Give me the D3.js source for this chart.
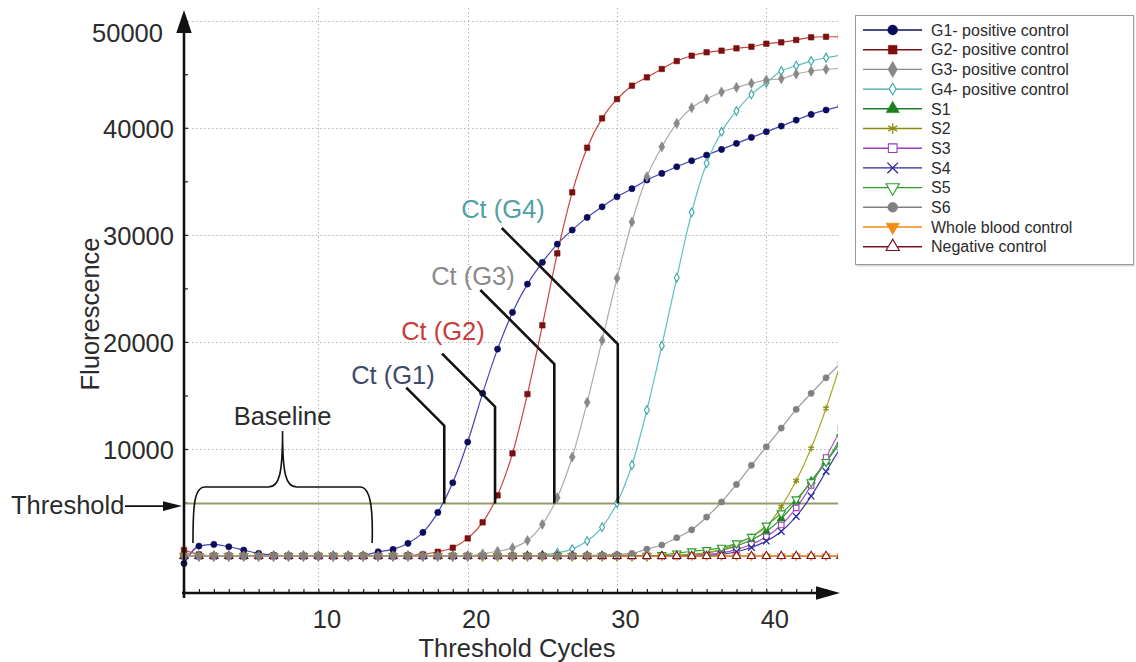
<!DOCTYPE html>
<html>
<head>
<meta charset="utf-8">
<script src="https://cdn.jsdelivr.net/npm/d3@7"></script>
<style>
  html, body { margin: 0; padding: 0; background: #fff; }
  svg { display: block; font-family: "Liberation Sans", Arial, Helvetica, sans-serif; }
</style>
</head>
<body>
<svg id="chart" width="1136" height="662"></svg>
<script>
// ---- data: real-time PCR amplification, fluorescence per cycle ----
const cycles = [
  1, 2, 3, 4, 5, 6, 7, 8, 9, 10, 11, 12, 13, 14, 15,
  16, 17, 18, 19, 20, 21, 22, 23, 24, 25, 26, 27, 28, 29, 30,
  31, 32, 33, 34, 35, 36, 37, 38, 39, 40, 41, 42, 43, 44, 45
];

const seriesNames = [
  "G1- positive control", "G2- positive control", "G3- positive control", "G4- positive control",
  "S1", "S2", "S3", "S4", "S5", "S6", "Whole blood control", "Negative control"
];

const g1 = [
  -690, 930, 1090, 870, 560, 250, 80, 20, 0, 0, 0, 0, 50, 400, 620,
  1190, 2210, 4080, 6850, 10650, 15200, 19330, 22760, 25400, 27430, 29140, 30450, 31630, 32620, 33560,
  34310, 35120, 35740, 36360, 36920, 37450, 37980, 38540, 39100, 39630, 40160, 40720, 41250, 41660, 42030
];
const g2 = [
  560, 150, 0, 0, 0, 0, 0, 0, 0, 0, 0, 0, 0, 0, 0,
  50, 150, 400, 780, 1650, 3150, 5670, 9590, 15130, 21550, 28270, 33970, 38140, 40880, 42680,
  43930, 44710, 45490, 46230, 46730, 47050, 47200, 47420, 47570, 47850, 47980, 48200, 48450, 48500, 48500
];
const g3 = [
  0, 0, 0, 0, 0, 0, 0, 0, 0, 0, 0, 0, 0, 0, 0,
  0, 0, 0, 0, 0, 200, 450, 760, 1450, 2960, 5450, 9250, 14360, 20150, 25940,
  31200, 35420, 38220, 40410, 41870, 42680, 43340, 43770, 44150, 44460, 44580, 45020, 45300, 45460, 45550
];
const g4 = [
  0, 0, 0, 0, 0, 0, 0, 0, 0, 0, 0, 0, 0, 0, 0,
  0, 0, 0, 0, 0, 0, 0, 0, 0, 100, 300, 650, 1400, 2700, 4950,
  8500, 13640, 19640, 26000, 32100, 36680, 39630, 41560, 43120, 44210, 45300, 45800, 46230, 46540, 46790
];
const s1 = [
  0, 0, 0, 0, 0, 0, 0, 0, 0, 0, 0, 0, 0, 0, 0,
  0, 0, 0, 0, 0, 0, 0, 0, 0, 0, 0, 0, 0, 0, 0,
  0, 0, 0, 50, 150, 300, 550, 950, 1500, 2300, 3500, 5100, 7000, 8800, 10700
];
const s2 = [
  0, 0, 0, 0, 0, 0, 0, 0, 0, 0, 0, 0, 0, 0, 0,
  0, 0, 0, 0, 0, 0, 0, 0, 0, 0, 0, 0, 0, 0, 0,
  0, 0, 0, 0, 100, 300, 630, 1120, 1800, 2740, 4610, 7030, 10060, 13800, 18100
];
const s3 = [
  0, 0, 0, 0, 0, 0, 0, 0, 0, 0, 0, 0, 0, 0, 0,
  0, 0, 0, 0, 0, 0, 0, 0, 0, 0, 0, 0, 0, 0, 0,
  0, 0, 0, 0, 50, 150, 300, 600, 1100, 1800, 2900, 4500, 6600, 9200, 11900
];
const s4 = [
  0, 0, 0, 0, 0, 0, 0, 0, 0, 0, 0, 0, 0, 0, 0,
  0, 0, 0, 0, 0, 0, 0, 0, 0, 0, 0, 0, 0, 0, 0,
  0, 0, 0, 0, 0, 50, 150, 400, 800, 1400, 2300, 3700, 5600, 7900, 10200
];
const s5 = [
  0, 0, 0, 0, 0, 0, 0, 0, 0, 0, 0, 0, 0, 0, 0,
  0, 0, 0, 0, 0, 0, 0, 0, 0, 0, 0, 0, 0, 0, 0,
  0, 0, 100, 250, 450, 560, 780, 1190, 1800, 2850, 4000, 5300, 6900, 8800, 11100
];
const s6 = [
  0, 0, 0, 0, 0, 0, 0, 0, 0, 0, 0, 0, 0, 0, 0,
  0, 0, 0, 0, 0, 0, 0, 0, 0, 0, 0, 0, 50, 100, 150,
  250, 650, 1030, 1710, 2450, 3640, 5050, 6690, 8480, 10210, 11950, 13700, 15200, 16650, 18050
];
const wholeBlood = [
  0, 0, 0, 0, 0, 0, 0, 0, 0, 0, 0, 0, 0, 0, 0,
  0, 0, 0, 0, 0, 0, 0, 0, 0, 0, 0, 0, 0, 0, 0,
  0, 0, 0, 0, 0, 0, 0, 0, 0, 0, 0, 0, 0, 0, 0
];
const negativeControl = [
  0, 0, 0, 0, 0, 0, 0, 0, 0, 0, 0, 0, 0, 0, 0,
  0, 0, 0, 0, 0, 0, 0, 0, 0, 0, 0, 0, 0, 0, 0,
  0, 0, 0, 0, 0, 0, 0, 0, 0, 0, 0, 0, 0, 0, 0
];

const thresholdValue = 4900;
const ctLabels = ["Ct (G1)", "Ct (G2)", "Ct (G3)", "Ct (G4)"];
const ctCycles = [18.43, 21.83, 25.8, 30.05];

const yTickValues = [10000, 20000, 30000, 40000, 50000];
const xTickValues = [10, 20, 30, 40];

// ---- styles ----
const seriesValues = [g1, g2, g3, g4, s1, s2, s3, s4, s5, s6, wholeBlood, negativeControl];
const lineColors = ["#4444b4", "#c8443c", "#ababab", "#5cc0c0", "#2f8f2f", "#a6a62a",
                    "#b050c8", "#3838a8", "#3aa83a", "#9a9a9a", "#f0a030", "#8a2030"];
const markerColors = ["#0c0c5e", "#7a1010", "#888888", "#3aa6a6", "#1f7f1f", "#8c8c10",
                      "#9c3cb8", "#28289a", "#2a9a2a", "#808080", "#f08a10", "#7a1020"];
const markerShapes = ["circle", "square", "diamond", "diamond", "triangle", "asterisk",
                      "square", "times", "triangleDown", "circle", "triangleDown", "triangle"];
const markerOpen = [false, false, false, true, false, false, true, false, true, false, false, true];
const lineOrder = [0, 1, 3, 4, 5, 6, 7, 8, 11, 10, 2, 9];
const markerOrder = [0, 1, 3, 4, 5, 6, 7, 8, 10, 11, 2, 9];

const ctColors = ["#3d4a6b", "#c83c3c", "#8a8a8a", "#4f9fa3"];
// leader geometry: elbow height (px) and label placement (px)
const ctLayout = [
  { elbowY: 425.7, lead: 38,  labelX: 393, labelY: 384 },
  { elbowY: 406.7, lead: 53,  labelX: 443, labelY: 340 },
  { elbowY: 364,   lead: 74,  labelX: 473, labelY: 285 },
  { elbowY: 344,   lead: 116, labelX: 503, labelY: 218 }
];

const BIG = 25.5;
const textColor = "#2b2b2b";

const svg = d3.select("#chart");
const plot = { left: 184, right: 838, top: 10, bottom: 593 };

const x = d3.scaleLinear().domain([1, 45]).range([184, 841]);
const y = d3.scaleLinear().domain([-3450, 51000]).range([593, 10]);

// ---- grid ----
const grid = svg.append("g").attr("stroke", "#b4b4b4").attr("stroke-width", 1)
  .attr("stroke-dasharray", "1.5,2.5");
grid.selectAll("line.h").data(yTickValues).join("line")
  .attr("x1", plot.left).attr("x2", plot.right)
  .attr("y1", d => Math.round(y(d)) + 0.5).attr("y2", d => Math.round(y(d)) + 0.5);
grid.selectAll("line.v").data(xTickValues).join("line")
  .attr("y1", 8).attr("y2", plot.bottom)
  .attr("x1", d => Math.round(x(d)) + 0.5).attr("x2", d => Math.round(x(d)) + 0.5);

// ---- minor ticks via axes ----
const xMinor = svg.append("g").attr("transform", `translate(0,${plot.bottom})`)
  .call(d3.axisTop(x).tickValues(cycles.filter(c => c < 45)).tickSize(4).tickFormat(""));
xMinor.select(".domain").remove();
xMinor.selectAll("line").attr("stroke", "#222").attr("stroke-width", 1.2);

const yMinorVals = [0, 5000, 10000, 15000, 20000, 25000, 30000, 35000, 40000, 45000, 50000];
const yMinor = svg.append("g").attr("transform", `translate(${plot.left},0)`)
  .call(d3.axisRight(y).tickValues(yMinorVals).tickSize(4).tickFormat(""));
yMinor.select(".domain").remove();
yMinor.selectAll("line").attr("stroke", "#222").attr("stroke-width", 1.2);

// ---- tick labels ----
const yAxis = svg.append("g").attr("transform", `translate(${plot.left},1.5)`)
  .call(d3.axisLeft(y).tickValues(yTickValues).tickSize(0).tickPadding(10).tickFormat(d3.format("d")));
yAxis.select(".domain").remove();
yAxis.selectAll("text").attr("font-size", BIG).attr("fill", textColor)
  .attr("font-family", "'Liberation Sans', Arial, sans-serif");
yAxis.selectAll(".tick").filter(d => d === 50000).select("text")
  .attr("dx", -11).attr("dy", "0.75em");

const xAxis = svg.append("g").attr("transform", `translate(8,${plot.bottom})`)
  .call(d3.axisBottom(x).tickValues(xTickValues).tickSize(0).tickPadding(17));
xAxis.select(".domain").remove();
xAxis.selectAll("text").attr("font-size", BIG).attr("fill", textColor)
  .attr("font-family", "'Liberation Sans', Arial, sans-serif");

// ---- threshold line ----
svg.append("line")
  .attr("x1", plot.left).attr("x2", plot.right)
  .attr("y1", y(thresholdValue)).attr("y2", y(thresholdValue))
  .attr("stroke", "#959a6e").attr("stroke-width", 2);

// ---- marker shapes ----
function symbolPath(shape, size) {
  const types = {
    circle: d3.symbolCircle, square: d3.symbolSquare, diamond: d3.symbolDiamond,
    triangle: d3.symbolTriangle, triangleDown: d3.symbolTriangle,
    asterisk: d3.symbolAsterisk, times: d3.symbolTimes
  };
  return d3.symbol(types[shape], size)();
}
function drawMarker(sel, i, size) {
  const shape = markerShapes[i];
  const stroked = shape === "asterisk" || shape === "times";
  sel.append("path")
    .attr("d", symbolPath(shape, size))
    .attr("transform", shape === "triangleDown" ? "rotate(180)" : null)
    .attr("fill", stroked ? "none" : (markerOpen[i] ? "#fff" : markerColors[i]))
    .attr("stroke", markerColors[i])
    .attr("stroke-width", stroked ? 1.3 : (markerOpen[i] ? 1.1 : 0.6));
}

// ---- curves ----
svg.append("clipPath").attr("id", "plotClip").append("rect")
  .attr("x", 176).attr("y", 0).attr("width", plot.right - 176).attr("height", plot.bottom);

const curves = svg.append("g").attr("clip-path", "url(#plotClip)");
const line = d3.line().x((d, k) => x(cycles[k])).y(d => y(d)).curve(d3.curveMonotoneX);

const lineLayer = curves.append("g");
const markerLayer = curves.append("g");
lineOrder.forEach(i => {
  lineLayer.append("path").attr("d", line(seriesValues[i]))
    .attr("fill", "none").attr("stroke", lineColors[i]).attr("stroke-width", 1.2);
});
markerOrder.forEach(i => {
  const g = markerLayer.append("g");
  seriesValues[i].forEach((v, k) => {
    const m = g.append("g").attr("transform", `translate(${x(cycles[k])},${y(v)})`);
    drawMarker(m, i, markerShapes[i] === "diamond" && markerOpen[i] ? 22 : 30);
  });
});

// ---- axes with arrowheads ----
const axisCol = "#111";
svg.append("line").attr("x1", plot.left).attr("x2", plot.left).attr("y1", 598).attr("y2", 28)
  .attr("stroke", axisCol).attr("stroke-width", 2.6);
svg.append("path").attr("d", "M176.3,33 L184,10 L191.7,33 Z").attr("fill", axisCol);
svg.append("line").attr("x1", 182).attr("x2", 820).attr("y1", plot.bottom).attr("y2", plot.bottom)
  .attr("stroke", axisCol).attr("stroke-width", 2.6);
svg.append("path").attr("d", "M816,586.3 L840,593 L816,599.7 Z").attr("fill", axisCol);

// ---- axis titles ----
svg.append("text").attr("x", 517).attr("y", 657).attr("text-anchor", "middle")
  .attr("font-size", BIG).attr("fill", textColor).text("Threshold Cycles");
svg.append("text").attr("transform", "translate(99,314) rotate(-90)").attr("text-anchor", "middle")
  .attr("font-size", BIG).attr("fill", textColor).text("Fluorescence");

// ---- threshold callout ----
const ty = y(thresholdValue) + 2.5;
svg.append("text").attr("x", 11).attr("y", ty + 7.5).attr("font-size", BIG)
  .attr("fill", textColor).text("Threshold");
svg.append("line").attr("x1", 125).attr("x2", 166).attr("y1", ty).attr("y2", ty)
  .attr("stroke", "#111").attr("stroke-width", 1.8);
svg.append("path").attr("d", `M163,${ty - 4.8} L182,${ty} L163,${ty + 4.8} Z`).attr("fill", "#111");

// ---- baseline brace ----
const bx0 = x(1.6), bx1 = x(13.6), bm = (bx0 + bx1) / 2;
const bBot = 543, bTop = 487, bPeak = 431;
svg.append("path")
  .attr("d", `M${bx0},${bBot} C${bx0},${bTop + 20} ${bx0 + 1},${bTop} ${bx0 + 12},${bTop}
              L${bm - 14},${bTop} C${bm - 3},${bTop} ${bm},${bTop - 14} ${bm},${bPeak}
              C${bm},${bTop - 14} ${bm + 3},${bTop} ${bm + 14},${bTop}
              L${bx1 - 12},${bTop} C${bx1 - 2},${bTop} ${bx1 + 1},${bTop + 20} ${bx1},${bBot}`)
  .attr("fill", "none").attr("stroke", "#111").attr("stroke-width", 1.6);
svg.append("text").attr("x", bm).attr("y", 425).attr("text-anchor", "middle")
  .attr("font-size", BIG).attr("fill", textColor).text("Baseline");

// ---- Ct leaders ----
ctCycles.forEach((c, i) => {
  const L = ctLayout[i];
  const cx = x(c), base = y(thresholdValue);
  svg.append("path")
    .attr("d", `M${cx - L.lead},${L.elbowY - L.lead} L${cx},${L.elbowY} L${cx},${base}`)
    .attr("fill", "none").attr("stroke", "#111").attr("stroke-width", 2.6);
  svg.append("text").attr("x", L.labelX).attr("y", L.labelY).attr("text-anchor", "middle")
    .attr("font-size", BIG).attr("fill", ctColors[i]).text(ctLabels[i]);
});

// ---- legend ----
const lg = svg.append("g");
lg.append("rect").attr("x", 856.5).attr("y", 16.5).attr("width", 278).attr("height", 250)
  .attr("fill", "#d8d8d8");
lg.append("rect").attr("x", 855.5).attr("y", 15.5).attr("width", 278).attr("height", 249)
  .attr("fill", "#fff").attr("stroke", "#9a9a9a").attr("stroke-width", 1);
seriesNames.forEach((name, i) => {
  const cy = 30 + i * 19.7;
  const row = lg.append("g");
  row.append("line").attr("x1", 863).attr("x2", 922).attr("y1", cy).attr("y2", cy)
    .attr("stroke", markerColors[i]).attr("stroke-width", 1.4);
  const m = row.append("g").attr("transform", `translate(892.7,${cy})`);
  drawMarker(m, i, markerShapes[i] === "diamond" && markerOpen[i] ? 40 : 75);
  row.append("text").attr("x", 931).attr("y", cy + 5.7).attr("font-size", 16)
    .attr("fill", textColor).text(name);
});
</script>
</body>
</html>
